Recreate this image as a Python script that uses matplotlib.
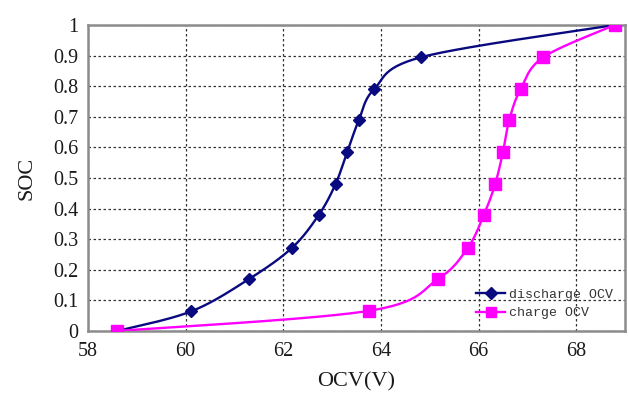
import numpy as np
import matplotlib
matplotlib.use("Agg")
import matplotlib.pyplot as plt

# Open-circuit voltage vs. state of charge
discharge_ocv = [58.6, 60.11, 61.3, 62.18, 62.73, 63.07, 63.31, 63.55, 63.86, 64.83, 68.79]
discharge_soc = [0.0, 0.064, 0.17, 0.272, 0.38, 0.48, 0.585, 0.69, 0.79, 0.895, 1.0]

charge_ocv = [58.6, 63.76, 65.17, 65.78, 66.11, 66.34, 66.5, 66.63, 66.86, 67.33, 68.79]
charge_soc = [0.0, 0.066, 0.17, 0.272, 0.38, 0.48, 0.585, 0.69, 0.79, 0.895, 1.0]

x_ticks = [58, 60, 62, 64, 66, 68]
y_ticks = [0, 0.1, 0.2, 0.3, 0.4, 0.5, 0.6, 0.7, 0.8, 0.9, 1]
y_tick_labels = ["0", "0.1", "0.2", "0.3", "0.4", "0.5", "0.6", "0.7", "0.8", "0.9", "1"]


def smooth(xs, ys, n=30):
    """Catmull-Rom curve through the points (spreadsheet-style smoothed line)."""
    p = np.column_stack([xs, ys]).astype(float)
    p = np.vstack([p[0], p, p[-1]])
    out = []
    t = np.linspace(0, 1, n)
    for i in range(1, len(p) - 2):
        p0, p1, p2, p3 = p[i - 1], p[i], p[i + 1], p[i + 2]
        c1 = p1 + (p2 - p0) / 6.0
        c2 = p2 - (p3 - p1) / 6.0
        seg = ((1 - t) ** 3)[:, None] * p1 + (3 * (1 - t) ** 2 * t)[:, None] * c1 \
            + (3 * (1 - t) * t ** 2)[:, None] * c2 + (t ** 3)[:, None] * p2
        out.append(seg if i == 1 else seg[1:])
    s = np.vstack(out)
    return s[:, 0], s[:, 1]


serif = ["Liberation Serif", "DejaVu Serif"]
plt.rcParams["font.family"] = serif

fig = plt.figure(figsize=(6.29, 3.98), dpi=100)
ax = fig.add_axes([88 / 629, 67 / 398, 537 / 629, 306 / 398])

navy = "#0a0a80"
magenta = "#ff00ff"

sx, sy = smooth(discharge_ocv, discharge_soc)
ax.plot(sx, sy, color=navy, lw=1.7, zorder=3)
ax.plot(discharge_ocv, discharge_soc, ls="none", marker="D", ms=6.5, color=navy, zorder=4)

cx, cy = smooth(charge_ocv, charge_soc)
ax.plot(cx, cy, color=magenta, lw=1.7, zorder=3)
ax.plot(charge_ocv, charge_soc, ls="none", marker="s", ms=8, color=magenta, zorder=4)

# legend handles
h1, = ax.plot([], [], color=navy, lw=1.7, marker="D", ms=6, label="discharge OCV")
h2, = ax.plot([], [], color=magenta, lw=1.7, marker="s", ms=7.5, label="charge OCV")
leg = ax.legend(handles=[h1, h2], loc="lower right", bbox_to_anchor=(1.0, 0.0),
                frameon=False, handlelength=2.2, handletextpad=0.3, labelspacing=0.45,
                prop={"family": ["Liberation Mono", "DejaVu Sans Mono"], "size": 9.5})
for t in leg.get_texts():
    t.set_color("#333333")

ax.set_xlim(58, 69)
ax.set_ylim(0, 1)
ax.set_xticks(x_ticks)
ax.set_xticklabels([str(v) for v in x_ticks])
ax.set_yticks(y_ticks)
ax.set_yticklabels(y_tick_labels)
ax.tick_params(axis="both", length=0, labelsize=14.5, labelcolor="#1a1a1a")
ax.tick_params(axis="x", pad=8)
ax.tick_params(axis="y", pad=7)

ax.grid(True, ls=(0, (2, 2)), color="#333333", lw=0.9)
ax.set_axisbelow(True)
for s in ax.spines.values():
    s.set_color("#8c8c8c")
    s.set_linewidth(1.8)

ax.set_xlabel("OCV(V)", fontsize=16, labelpad=8, color="#1a1a1a")
ax.set_ylabel("SOC", fontsize=16, labelpad=12, color="#1a1a1a")

fig.savefig("out.png", dpi=100, facecolor="white")
